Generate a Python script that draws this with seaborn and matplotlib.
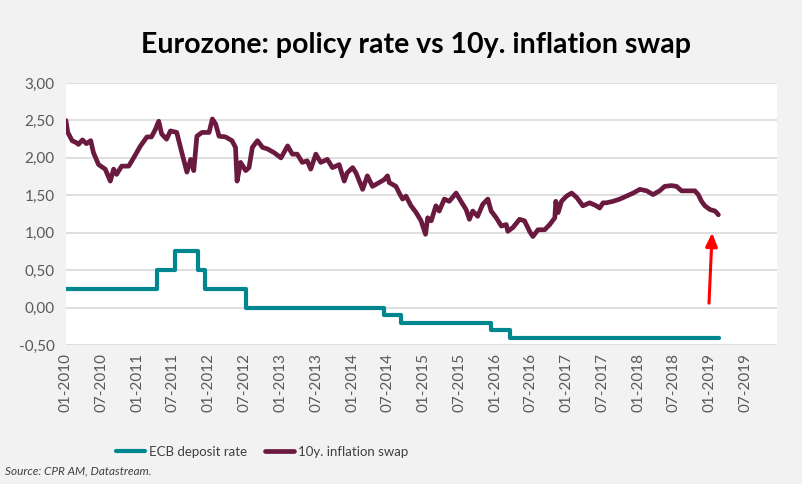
import numpy as np
import pandas as pd
import matplotlib
matplotlib.use("Agg")
import matplotlib.pyplot as plt
import matplotlib.dates as mdates
from matplotlib.ticker import FuncFormatter
import seaborn as sns

# ECB deposit rate (step changes)
ecb_dates = ["2010-01-01", "2011-04-13", "2011-07-13", "2011-11-09", "2011-12-14",
             "2012-07-11", "2014-06-11", "2014-09-10", "2015-12-09", "2016-03-16",
             "2019-02-15"]
ecb_rate = [0.25, 0.50, 0.75, 0.50, 0.25, 0.00, -0.10, -0.20, -0.30, -0.40, -0.40]

# 10y inflation swap
swap_dates = [
    "2010-01-01", "2010-01-11", "2010-02-02", "2010-02-26", "2010-03-06", "2010-03-27",
    "2010-04-16", "2010-05-08", "2010-05-22", "2010-06-17", "2010-07-21", "2010-08-16",
    "2010-09-02", "2010-09-17", "2010-10-13", "2010-11-18", "2010-12-13", "2011-01-17",
    "2011-02-19", "2011-03-14", "2011-04-03", "2011-04-20", "2011-05-05", "2011-05-30",
    "2011-06-19", "2011-07-21", "2011-08-16", "2011-09-11", "2011-09-30", "2011-10-16",
    "2011-11-01", "2011-11-27", "2012-01-02", "2012-01-19", "2012-02-05", "2012-02-22",
    "2012-03-26", "2012-04-28", "2012-05-16", "2012-05-24", "2012-06-11", "2012-07-07",
    "2012-07-24", "2012-08-10", "2012-09-05", "2012-10-01", "2012-10-26", "2012-11-29",
    "2013-01-03", "2013-02-06", "2013-03-02", "2013-03-27", "2013-04-22", "2013-05-17",
    "2013-06-04", "2013-06-30", "2013-07-25", "2013-08-28", "2013-09-23", "2013-10-27",
    "2013-11-22", "2013-12-07", "2014-01-04", "2014-01-21", "2014-02-24", "2014-03-20",
    "2014-04-15", "2014-05-19", "2014-06-14", "2014-07-01", "2014-07-10", "2014-08-13",
    "2014-08-30", "2014-09-16", "2014-10-03", "2014-10-29", "2014-11-24", "2014-12-19",
    "2015-01-11", "2015-01-22", "2015-02-09", "2015-03-05", "2015-03-22", "2015-04-17",
    "2015-05-12", "2015-06-16", "2015-07-11", "2015-08-06", "2015-08-23", "2015-09-09",
    "2015-10-04", "2015-10-30", "2015-11-25", "2015-12-12", "2016-01-07", "2016-02-02",
    "2016-02-27", "2016-03-06", "2016-04-01", "2016-05-05", "2016-05-30", "2016-06-25",
    "2016-07-12", "2016-08-07", "2016-09-10", "2016-10-06", "2016-11-01", "2016-11-06",
    "2016-11-18", "2016-12-05", "2016-12-31", "2017-01-26", "2017-02-21", "2017-03-24",
    "2017-04-28", "2017-06-01", "2017-06-18", "2017-07-05", "2017-07-22", "2017-08-25",
    "2017-09-29", "2017-11-02", "2017-12-06", "2018-01-09", "2018-02-13", "2018-03-17",
    "2018-04-20", "2018-05-16", "2018-06-19", "2018-07-15", "2018-08-10", "2018-09-13",
    "2018-10-17", "2018-11-03", "2018-11-20", "2018-12-07", "2019-01-02", "2019-01-28",
    "2019-02-14",
]
swap_rate = [
    2.50, 2.34, 2.23, 2.20, 2.18, 2.24,
    2.19, 2.23, 2.07, 1.91, 1.85, 1.69,
    1.85, 1.78, 1.89, 1.89, 2.00, 2.16,
    2.28, 2.28, 2.38, 2.49, 2.32, 2.25,
    2.36, 2.34, 2.07, 1.81, 1.98, 1.83,
    2.29, 2.34, 2.34, 2.52, 2.45, 2.29,
    2.28, 2.23, 2.14, 1.69, 1.94, 1.83,
    1.87, 2.14, 2.23, 2.14, 2.12, 2.07,
    2.00, 2.16, 2.05, 2.05, 1.94, 1.96,
    1.85, 2.05, 1.94, 1.98, 1.87, 1.91,
    1.69, 1.80, 1.87, 1.80, 1.58, 1.76,
    1.62, 1.67, 1.71, 1.76, 1.67, 1.62,
    1.53, 1.45, 1.49, 1.36, 1.27, 1.16,
    0.98, 1.20, 1.16, 1.36, 1.29, 1.45,
    1.42, 1.53, 1.42, 1.31, 1.18, 1.29,
    1.22, 1.38, 1.45, 1.29, 1.20, 1.09,
    1.11, 1.02, 1.07, 1.18, 1.16, 1.02,
    0.95, 1.04, 1.04, 1.11, 1.20, 1.42,
    1.27, 1.42, 1.49, 1.53, 1.47, 1.36,
    1.40, 1.36, 1.33, 1.40, 1.40, 1.42,
    1.45, 1.49, 1.53, 1.58, 1.56, 1.51,
    1.56, 1.62, 1.63, 1.62, 1.56, 1.56,
    1.56, 1.51, 1.42, 1.36, 1.31, 1.29,
    1.24,
]

ecb = pd.DataFrame({"date": pd.to_datetime(ecb_dates), "rate": ecb_rate})
swap = pd.DataFrame({"date": pd.to_datetime(swap_dates), "rate": swap_rate})

sns.set_style("white")
plt.rcParams["font.family"] = ["Lato", "DejaVu Sans"]

fig = plt.figure(figsize=(8.03, 4.84), dpi=100, facecolor="#f2f2f2")
ax = fig.add_axes([0.082, 0.287, 0.8856, 0.5415])
ax.set_facecolor("white")

sns.lineplot(data=ecb, x="date", y="rate", ax=ax, color="#00868f", lw=3,
             drawstyle="steps-post", label="ECB deposit rate")
sns.lineplot(data=swap, x="date", y="rate", ax=ax, color="#6b1a3f", lw=3.4,
             label="10y. inflation swap")

# red arrow
ax.annotate("", xy=(pd.Timestamp("2019-01-13"), 1.0), xytext=(pd.Timestamp("2018-12-28"), 0.06),
            arrowprops=dict(arrowstyle="-|>,head_width=0.35,head_length=0.8", color="red", lw=2.2,
                            shrinkA=0, shrinkB=0))

ax.set_ylim(-0.5, 3.0)
ax.set_yticks(np.arange(-0.5, 3.01, 0.5))
ax.yaxis.set_major_formatter(FuncFormatter(lambda v, p: f"{v:.2f}".replace(".", ",")))
ax.set_xlim(pd.Timestamp("2010-01-01"), pd.Timestamp("2019-12-10"))
ax.xaxis.set_major_locator(mdates.MonthLocator(bymonth=[1, 7]))
ax.xaxis.set_major_formatter(mdates.DateFormatter("%m-%Y"))
ax.grid(axis="y", color="#d9d9d9", lw=1.2)
ax.grid(axis="x", visible=False)
for s in ax.spines.values():
    s.set_visible(False)
ax.tick_params(axis="both", length=0, labelsize=11, labelcolor="#595959")
ax.tick_params(axis="x", rotation=90, pad=6)
ax.tick_params(axis="y", pad=8)
ax.set_xlabel("")
ax.set_ylabel("")

ax.legend_.remove()
h, l = ax.get_legend_handles_labels()
fig.legend(h, l, loc="center", bbox_to_anchor=(262 / 803, 1 - 452 / 484), ncol=2,
           frameon=False, fontsize=9.5, handlelength=2.2, handletextpad=0.25,
           columnspacing=1.4, labelcolor="#404040")

fig.text(0.518, 1 - 45 / 484, "Eurozone: policy rate vs 10y. inflation swap",
         ha="center", va="center", fontsize=20.5, fontweight="bold", color="black")
fig.text(5 / 803, 1 - 471 / 484, "Source: CPR AM, Datastream.", ha="left", va="center",
         fontsize=8.5, style="italic", color="#404040")

fig.savefig("out.png", dpi=100, facecolor=fig.get_facecolor())
